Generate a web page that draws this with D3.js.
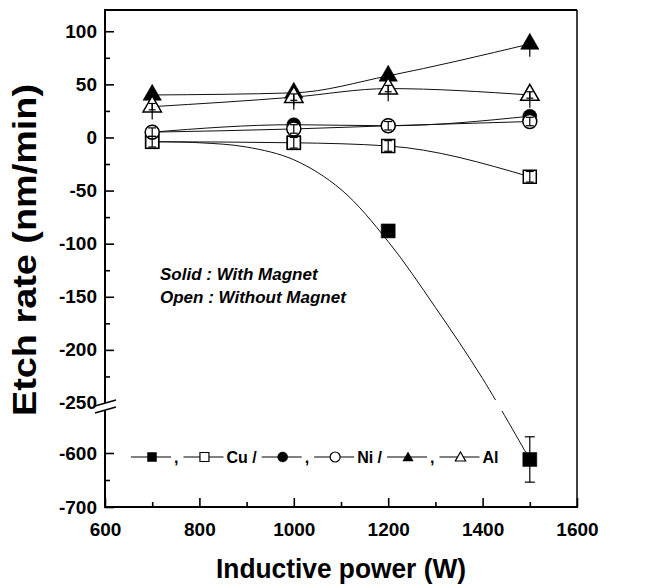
<!DOCTYPE html>
<html><head><meta charset="utf-8">
<script src="https://cdn.jsdelivr.net/npm/d3@7"></script>
<style>
body{margin:0;background:#fff}
svg{display:block}
text{font-family:"Liberation Sans",Arial,Helvetica,sans-serif;font-weight:bold;fill:#000}
</style>
</head><body>
<svg id="c" width="650" height="588"></svg>
<script>
// ---------- data ----------
const powers = [700, 1000, 1200, 1500];
const cuMagnet   = [-4, -5, -88, -612];
const cuNoMagnet = [-4, -5, -8, -37];
const niMagnet   = [5, 12, 11, 20];
const niNoMagnet = [5, 8, 11, 15];
const alMagnet   = [40, 42, 58, 88];
const alNoMagnet = [29, 38, 46, 40];
const cuMagnetErr   = [0, 0, 0, 42];
const cuNoMagnetErr = [5, 5, 5, 5];
const niNoMagnetErr = [4, 4, 4, 4];
const alMagnetErrDown = [12, 12, 12, 12];
const alNoMagnetErrDown = [12, 12, 12, 12];
// fitted curve through the Cu (with magnet) data
const cuFitPower = [700, 800, 900, 1000, 1100, 1200, 1300, 1400, 1500];
const cuFitRate  = [-4, -5, -9, -21, -49, -98, -160, -227, -612];
const xMajor = [600, 800, 1000, 1200, 1400, 1600];
const xMinor = [700, 900, 1100, 1300, 1500];
const yMajorUpper = [100, 50, 0, -50, -100, -150, -200];
const yMinorUpper = [75, 25, -25, -75, -125, -175, -225];
const yMajorLower = [-600, -700];
const yMinorLower = [-650];
const breakLabel = -250;

// ---------- scales ----------
const svg = d3.select('#c');
const L = 105, R = 577, T = 10, B = 507;
const x = d3.scaleLinear().domain([600, 1600]).range([L, R]);
const yUp = d3.scaleLinear().domain([-250, 120]).range([403, T]);
const yLo = d3.scaleLinear().domain([-700, -600]).range([B, 453]);
const Y = v => v >= -250 ? yUp(v) : yLo(v);

// ---------- axes ----------
const fs = 19;
function styleAxis(g){
  g.select('.domain').remove();
  g.selectAll('.tick line').attr('stroke','#000').attr('stroke-width',1.6);
  g.selectAll('.tick text').style('font-size', fs+'px').style('font-family','"Liberation Sans",Arial,sans-serif').style('font-weight','bold');
}
const fmt = d => String(d);
svg.append('g').attr('transform',`translate(0,${B})`)
  .call(d3.axisBottom(x).tickValues(xMajor).tickSize(-9).tickPadding(16).tickFormat(fmt)).call(styleAxis);
svg.append('g').attr('transform',`translate(0,${B})`)
  .call(d3.axisBottom(x).tickValues(xMinor).tickSize(-5).tickFormat('')).call(styleAxis);
svg.append('g').attr('transform',`translate(${L},0)`)
  .call(d3.axisLeft(yUp).tickValues(yMajorUpper).tickSize(-9).tickPadding(8).tickFormat(fmt)).call(styleAxis);
svg.append('g').attr('transform',`translate(${L},0)`)
  .call(d3.axisLeft(yUp).tickValues(yMinorUpper).tickSize(-5).tickFormat('')).call(styleAxis);
svg.append('g').attr('transform',`translate(${L},0)`)
  .call(d3.axisLeft(yLo).tickValues(yMajorLower).tickSize(-9).tickPadding(8).tickFormat(fmt)).call(styleAxis);
svg.append('g').attr('transform',`translate(${L},0)`)
  .call(d3.axisLeft(yLo).tickValues(yMinorLower).tickSize(-5).tickFormat('')).call(styleAxis);
svg.append('text').attr('x', L-8).attr('y', yUp(breakLabel)+6).attr('text-anchor','end')
  .style('font-size', fs+'px').text(String(breakLabel));

// frame
svg.append('line').attr('x1',L).attr('x2',R).attr('y1',T).attr('y2',T).attr('stroke','#000').attr('stroke-width',2);
svg.append('line').attr('x1',R).attr('x2',R).attr('y1',T).attr('y2',B).attr('stroke','#000').attr('stroke-width',1.5);
svg.append('line').attr('x1',L-1).attr('x2',R+1).attr('y1',B).attr('y2',B).attr('stroke','#000').attr('stroke-width',2);
svg.append('line').attr('x1',L).attr('x2',L).attr('y1',T-1).attr('y2',403).attr('stroke','#000').attr('stroke-width',2);
svg.append('line').attr('x1',L).attr('x2',L).attr('y1',411).attr('y2',B).attr('stroke','#000').attr('stroke-width',2);
// break marks
[[406,400],[413,407]].forEach(([a,b])=>{
  svg.append('line').attr('x1',95).attr('y1',a).attr('x2',116).attr('y2',b).attr('stroke','#000').attr('stroke-width',1.5);
});

// titles
svg.append('text').attr('x',341).attr('y',578).attr('text-anchor','middle')
  .style('font-size','28px').attr('textLength',250).attr('lengthAdjust','spacingAndGlyphs').text('Inductive power (W)');
svg.append('text').attr('transform','translate(36,250) rotate(-90)').attr('text-anchor','middle')
  .style('font-size','34px').attr('textLength',332).attr('lengthAdjust','spacingAndGlyphs').text('Etch rate (nm/min)');

// annotations
svg.append('text').attr('x',160).attr('y',280).style('font-size','17px').style('font-style','italic').text('Solid : With Magnet');
svg.append('text').attr('x',160).attr('y',303).style('font-size','17px').style('font-style','italic').text('Open : Without Magnet');

// ---------- lines ----------
const defs = svg.append('defs');
const cp = defs.append('clipPath').attr('id','gap');
cp.append('rect').attr('x',0).attr('y',0).attr('width',650).attr('height',400);
cp.append('rect').attr('x',0).attr('y',411).attr('width',650).attr('height',177);

const lineGen = d3.line().x(d=>x(d[0])).y(d=>Y(d[1]));
const zip = (xs, ys) => xs.map((v,i)=>[v, ys[i]]);
svg.append('path').datum(zip(cuFitPower, cuFitRate))
  .attr('d', lineGen.curve(d3.curveCatmullRom.alpha(0.5)))
  .attr('fill','none').attr('stroke','#111').attr('stroke-width',1).attr('clip-path','url(#gap)');
const mono = d3.line().x(d=>x(d[0])).y(d=>Y(d[1])).curve(d3.curveMonotoneX);
[cuNoMagnet, niMagnet, niNoMagnet, alMagnet, alNoMagnet].forEach(s=>{
  svg.append('path').datum(zip(powers, s)).attr('d', mono)
    .attr('fill','none').attr('stroke','#111').attr('stroke-width',1);
});

// ---------- markers ----------
function symPath(shape, size){
  if(shape==='square'){ const h=size/2; return `M${-h},${-h}H${h}V${h}H${-h}Z`; }
  if(shape==='circle'){ const r=size/2; return `M${r},0A${r},${r} 0 1,1 ${-r},0A${r},${r} 0 1,1 ${r},0Z`; }
  const w=size*1.15/2, hgt=size; return `M0,${-hgt*2/3}L${w},${hgt/3}L${-w},${hgt/3}Z`;
}
function errBar(g, px, v, down, up, cap){
  if(!(down||up)) return;
  const y1 = Y(v-down), y2 = Y(v+up), cx = x(px);
  g.append('line').attr('x1',cx).attr('x2',cx).attr('y1',y1).attr('y2',y2).attr('stroke','#000').attr('stroke-width',1.2);
  if(cap>0){
    [y1,y2].forEach(yy=>g.append('line').attr('x1',cx-cap/2).attr('x2',cx+cap/2).attr('y1',yy).attr('y2',yy).attr('stroke','#000').attr('stroke-width',1.2));
  }
}
const mk = svg.append('g');
function drawSeries(vals, shape, size, filled){
  vals.forEach((v,i)=>{
    mk.append('path').attr('d', symPath(shape,size)).attr('transform',`translate(${x(powers[i])},${Y(v)})`)
      .attr('fill', filled ? '#000' : '#fff').attr('stroke','#000').attr('stroke-width', filled?0.5:1.5);
  });
}
powers.forEach((p,i)=>errBar(mk,p,alMagnet[i],alMagnetErrDown[i],3,0));
powers.forEach((p,i)=>errBar(mk,p,cuMagnet[i],cuMagnetErr[i],cuMagnetErr[i],10));
drawSeries(cuMagnet,'square',14,true);
drawSeries(niMagnet,'circle',14,true);
drawSeries(alMagnet,'triangle',16,true);
drawSeries(cuNoMagnet,'square',13,false);
drawSeries(niNoMagnet,'circle',14,false);
drawSeries(alNoMagnet,'triangle',16,false);
powers.forEach((p,i)=>errBar(mk,p,cuNoMagnet[i],cuNoMagnetErr[i],cuNoMagnetErr[i],8));
powers.forEach((p,i)=>errBar(mk,p,niNoMagnet[i],niNoMagnetErr[i],niNoMagnetErr[i],8));
powers.forEach((p,i)=>errBar(mk,p,alNoMagnet[i],alNoMagnetErrDown[i],3,0));
powers.forEach((p,i)=>errBar(mk,p,alNoMagnet[i],3,3,7));

// ---------- legend ----------
const legendItems = [
  {shape:'square',filled:true},{text:','},
  {shape:'square',filled:false},{text:'Cu /'},
  {shape:'circle',filled:true},{text:','},
  {shape:'circle',filled:false},{text:'Ni /'},
  {shape:'triangle',filled:true},{text:','},
  {shape:'triangle',filled:false},{text:'Al'}
];
const lg = svg.append('g');
const ly = 457;
let cx = 131;
legendItems.forEach(it=>{
  if(it.shape){
    lg.append('line').attr('x1',cx).attr('x2',cx+40).attr('y1',ly).attr('y2',ly).attr('stroke','#000').attr('stroke-width',1);
    const sz = it.shape==='triangle' ? 9 : (it.shape==='circle'?10:9);
    lg.append('path').attr('d',symPath(it.shape,sz)).attr('transform',`translate(${cx+21},${ly+(it.shape==='triangle'?1:0)})`)
      .attr('fill', it.filled?'#000':'#fff').attr('stroke','#000').attr('stroke-width',it.filled?0.5:1.2);
    cx += 43;
  } else {
    const t = lg.append('text').attr('x',cx).attr('y',ly+6).style('font-size','16px').text(it.text);
    cx += t.node().getComputedTextLength() + 5;
  }
});
</script>
</body></html>
